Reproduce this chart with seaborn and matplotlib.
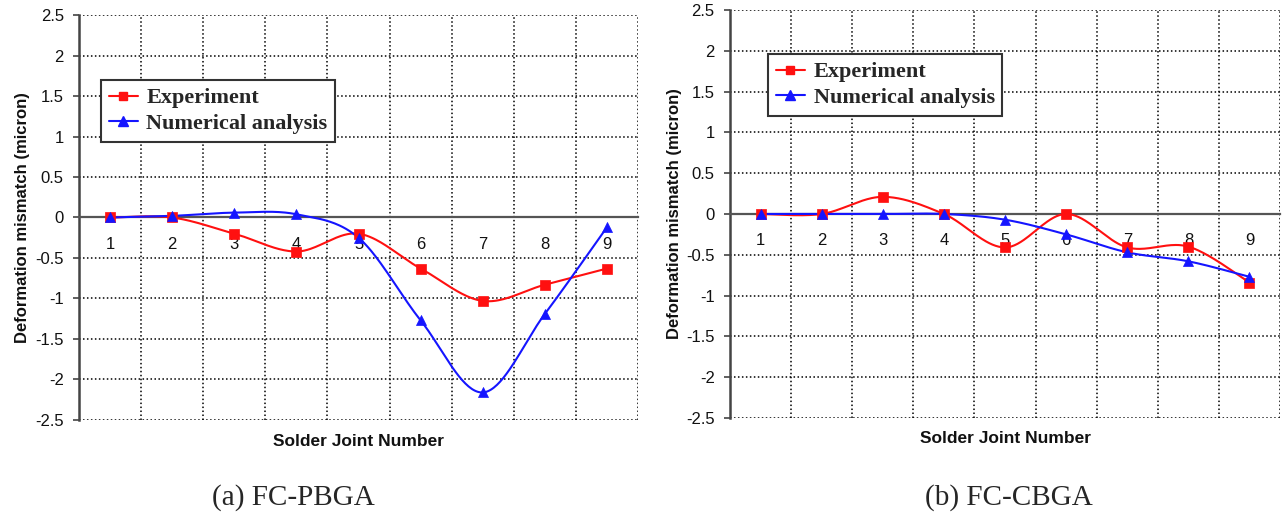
import numpy as np
import matplotlib
matplotlib.use('Agg')
import matplotlib.pyplot as plt
from matplotlib.lines import Line2D
from matplotlib.ticker import MultipleLocator, FuncFormatter
import seaborn as sns

# --- Data ---
joints = [1, 2, 3, 4, 5, 6, 7, 8, 9]
pbga_experiment = [0.0, 0.0, -0.20, -0.42, -0.20, -0.63, -1.03, -0.83, -0.63]
pbga_numerical = [0.0, 0.02, 0.06, 0.04, -0.25, -1.27, -2.16, -1.19, -0.12]
cbga_experiment = [0.0, 0.0, 0.21, 0.0, -0.41, 0.0, -0.41, -0.40, -0.84]
cbga_numerical = [0.0, 0.0, 0.0, 0.0, -0.07, -0.25, -0.47, -0.58, -0.77]
series_names = ['Experiment', 'Numerical analysis']
captions = ['(a) FC-PBGA', '(b) FC-CBGA']

RED = '#ff1010'
BLUE = '#1515ff'
SANS = ['Liberation Sans', 'DejaVu Sans']
SERIF = ['Liberation Serif', 'DejaVu Serif']


def smooth_curve(x, y, n=40):
    # Excel-style smoothed line: cubic Bezier through the points (Catmull-Rom, tension 1/6)
    x = np.asarray(x, float)
    y = np.asarray(y, float)
    px = np.concatenate([[x[0]], x, [x[-1]]])
    py = np.concatenate([[y[0]], y, [y[-1]]])
    t = np.linspace(0, 1, n)[:, None]
    out = []
    for i in range(1, len(px) - 2):
        p0 = np.array([px[i - 1], py[i - 1]])
        p1 = np.array([px[i], py[i]])
        p2 = np.array([px[i + 1], py[i + 1]])
        p3 = np.array([px[i + 2], py[i + 2]])
        c1 = p1 + (p2 - p0) / 6
        c2 = p2 - (p3 - p1) / 6
        seg = ((1 - t) ** 3) * p1 + 3 * ((1 - t) ** 2) * t * c1 + 3 * (1 - t) * t ** 2 * c2 + t ** 3 * p2
        out.append(seg if i == 1 else seg[1:])
    pts = np.vstack(out)
    return pts[:, 0], pts[:, 1]


sns.set_style('white')
plt.rcParams['font.family'] = SANS

fig = plt.figure(figsize=(12.83, 5.14), dpi=100)
panels = [
    (fig.add_axes([0.0616, 0.1829, 0.4357, 0.7879]), pbga_experiment, pbga_numerical, (0.039, 0.8395), -0.035),
    (fig.add_axes([0.5690, 0.1868, 0.4287, 0.7938]), cbga_experiment, cbga_numerical, (0.069, 0.892), -0.033),
]

grid_kw = dict(color='black', linestyle=(0, (1, 1.6)), linewidth=1.1)

for ax, exp_vals, num_vals, leg_pos, xlab_y in panels:
    for vals, color, marker, size in [(exp_vals, RED, 's', 42), (num_vals, BLUE, '^', 52)]:
        sx, sy = smooth_curve(joints, vals)
        sns.lineplot(x=sx, y=sy, sort=False, estimator=None, color=color, linewidth=1.5, ax=ax, zorder=3)
        sns.scatterplot(x=joints, y=vals, marker=marker, s=size, color=color, edgecolor=color,
                        linewidth=0.5, ax=ax, zorder=4)

    ax.set_xlim(0.5, 9.5)
    ax.set_ylim(-2.5, 2.5)
    ax.set_xticks(joints)
    ax.set_xticks(np.arange(0.5, 10, 1), minor=True)
    ax.yaxis.set_major_locator(MultipleLocator(0.5))
    ax.yaxis.set_major_formatter(FuncFormatter(lambda v, p: f'{v:g}'))
    ax.grid(which='minor', axis='x', **grid_kw)
    ax.grid(which='major', axis='y', **grid_kw)
    ax.set_axisbelow(True)

    ax.spines['top'].set_visible(False)
    ax.spines['right'].set_visible(False)
    ax.spines['bottom'].set_position(('data', 0))
    ax.spines['bottom'].set_color('#555555')
    ax.spines['bottom'].set_linewidth(1.6)
    ax.spines['left'].set_color('#444444')
    ax.spines['left'].set_linewidth(1.8)

    ax.tick_params(axis='x', which='both', length=0, pad=14, labelsize=12, colors='#111111')
    ax.tick_params(axis='y', which='major', length=4, width=1.2, direction='out', color='#444444',
                   pad=7, labelsize=12, labelcolor='#111111', left=True)

    ax.set_xlabel('Solder Joint Number', fontsize=12.5, fontweight='bold', color='#111111')
    ax.xaxis.set_label_coords(0.5, xlab_y)
    ax.set_ylabel('Deformation mismatch (micron)', fontsize=12, fontweight='bold', color='#111111')
    ax.yaxis.set_label_coords(-0.087, 0.5)

    handles = [
        Line2D([], [], color=RED, marker='s', markersize=6, linewidth=1.5, label=series_names[0]),
        Line2D([], [], color=BLUE, marker='^', markersize=7, linewidth=1.5, label=series_names[1]),
    ]
    leg = ax.legend(handles=handles, loc='upper left', bbox_to_anchor=leg_pos, borderaxespad=0,
                    frameon=True, fancybox=False, framealpha=1, edgecolor='#333333', borderpad=0.35,
                    handlelength=1.3, handletextpad=0.4, labelspacing=0.22,
                    prop=dict(family=SERIF, weight='bold', size=16))
    leg.get_frame().set_linewidth(1.5)
    leg.set_zorder(5)

fig.text(0.229, 0.033, captions[0], ha='center', va='center', fontsize=21, family=SERIF)
fig.text(0.786, 0.033, captions[1], ha='center', va='center', fontsize=21, family=SERIF)

fig.savefig('out.png', dpi=100)
